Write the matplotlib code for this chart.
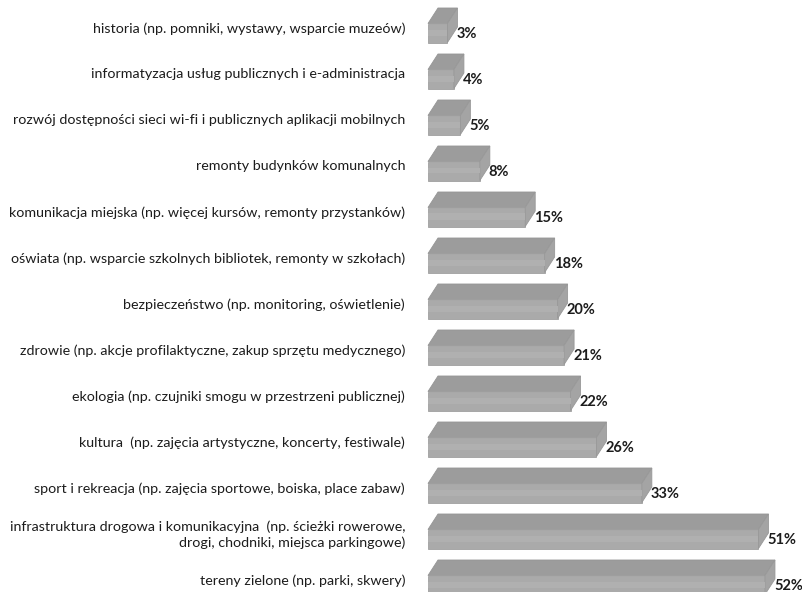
import matplotlib
matplotlib.use("Agg")
import matplotlib.pyplot as plt
from matplotlib.patches import Polygon

plt.rcParams['font.family'] = ['Lato', 'DejaVu Sans']

categories = [
    "historia (np. pomniki, wystawy, wsparcie muzeów)",
    "informatyzacja usług publicznych i e-administracja",
    "rozwój dostępności sieci wi-fi i publicznych aplikacji mobilnych",
    "remonty budynków komunalnych",
    "komunikacja miejska (np. więcej kursów, remonty przystanków)",
    "oświata (np. wsparcie szkolnych bibliotek, remonty w szkołach)",
    "bezpieczeństwo (np. monitoring, oświetlenie)",
    "zdrowie (np. akcje profilaktyczne, zakup sprzętu medycznego)",
    "ekologia (np. czujniki smogu w przestrzeni publicznej)",
    "kultura  (np. zajęcia artystyczne, koncerty, festiwale)",
    "sport i rekreacja (np. zajęcia sportowe, boiska, place zabaw)",
    "infrastruktura drogowa i komunikacyjna  (np. ścieżki rowerowe,\ndrogi, chodniki, miejsca parkingowe)",
    "tereny zielone (np. parki, skwery)",
]
values = [3, 4, 5, 8, 15, 18, 20, 21, 22, 26, 33, 51, 52]

# pixel geometry -> data units
px_x = 6.48      # pixels per percent
px_y = 46.0      # pixels per row
x0_px = 428
y0_px = 25.5

fig = plt.figure(figsize=(8.02, 5.92), dpi=100)
ax = fig.add_axes([0, 0, 1, 1])
ax.set_xlim(-x0_px / px_x, (802 - x0_px) / px_x)
ax.set_ylim((592 - y0_px) / px_y, -y0_px / px_y)
ax.axis('off')

dx = 10 / px_x
top_off = 17.5 / px_y
front_top_off = -2 / px_y
bottom_off = 17 / px_y

for i, (cat, v) in enumerate(zip(categories, values)):
    yt = i - top_off
    yf = i + front_top_off
    yb = i + bottom_off
    depth = yf - yt
    top = Polygon([(0, yf), (v, yf), (v + dx, yt), (dx, yt)], closed=True,
                  facecolor='#9c9c9c', edgecolor='#959595', lw=0.6)
    front = Polygon([(0, yf), (v, yf), (v, yb), (0, yb)], closed=True,
                    facecolor='#aaaaaa', edgecolor='#a0a0a0', lw=0.6)
    side = Polygon([(v, yf), (v + dx, yt), (v + dx, yb - depth), (v, yb)], closed=True,
                   facecolor='#a4a4a4', edgecolor='#989898', lw=0.6)
    for p in (top, front, side):
        ax.add_patch(p)
    # soft lighter band on front face
    ax.add_patch(Polygon([(0, yf + 6 / px_y), (v, yf + 6 / px_y), (v, yf + 12 / px_y), (0, yf + 12 / px_y)],
                         closed=True, facecolor='#b0b0b0', edgecolor='none'))

    ax.text(-23 / px_x, i + 3 / px_y, cat, ha='right', va='center',
            fontsize=10.25, color='#1c1c1c', linespacing=1.3)
    ax.text(v + dx - 1 / px_x, i + 12 / px_y, f"{v}%", ha='left', va='baseline',
            fontsize=10.5, fontweight='bold', color='#1c1c1c')

fig.savefig("out.png", dpi=100)
